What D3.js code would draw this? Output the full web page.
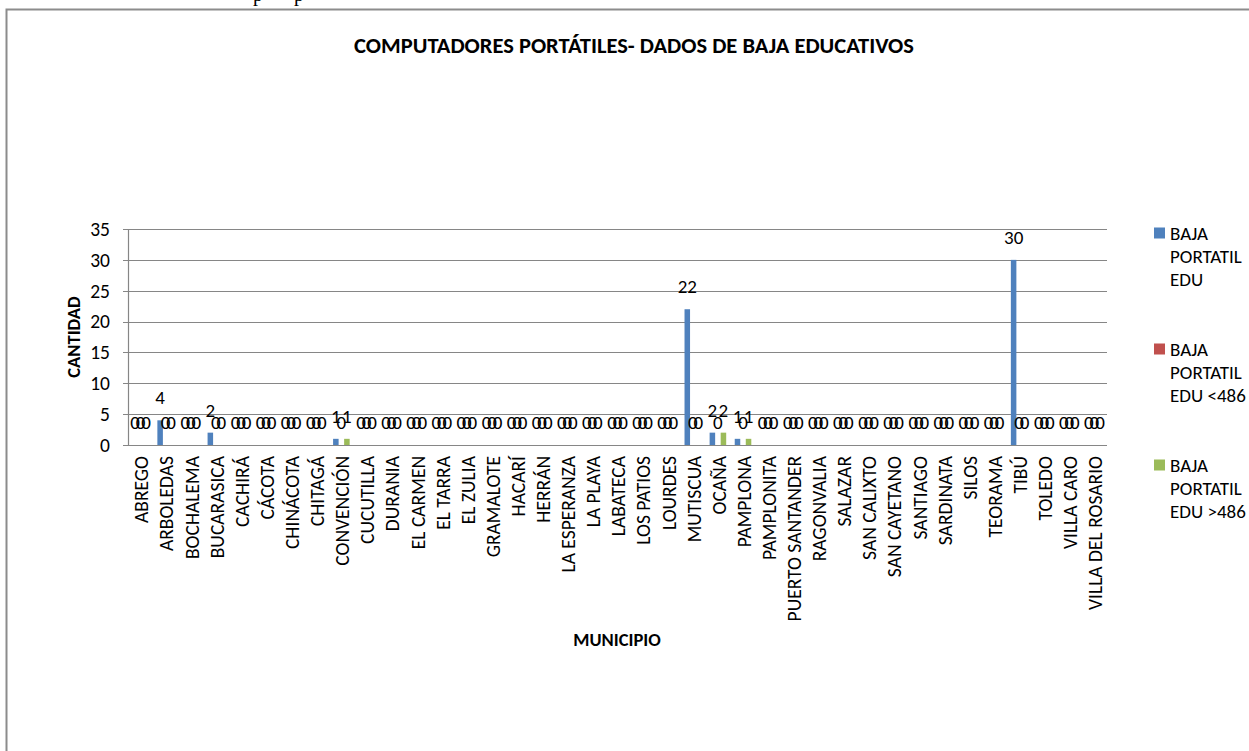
<!DOCTYPE html>
<html>
<head>
<meta charset="utf-8">
<script src="https://cdn.jsdelivr.net/npm/d3@7"></script>
<style>
  html, body { margin: 0; padding: 0; background: #fff; }
  svg { display: block; }
  text { font-family: Carlito, Lato, "Open Sans", sans-serif; }
</style>
</head>
<body>
<svg id="chart" width="1249" height="751"></svg>
<script>
const categories = ["ABREGO","ARBOLEDAS","BOCHALEMA","BUCARASICA","CACHIRÁ","CÁCOTA","CHINÁCOTA","CHITAGÁ","CONVENCIÓN","CUCUTILLA","DURANIA","EL CARMEN","EL TARRA","EL ZULIA","GRAMALOTE","HACARÍ","HERRÁN","LA ESPERANZA","LA PLAYA","LABATECA","LOS PATIOS","LOURDES","MUTISCUA","OCAÑA","PAMPLONA","PAMPLONITA","PUERTO SANTANDER","RAGONVALIA","SALAZAR","SAN CALIXTO","SAN CAYETANO","SANTIAGO","SARDINATA","SILOS","TEORAMA","TIBÚ","TOLEDO","VILLA CARO","VILLA DEL ROSARIO"];
const seriesNames = ["BAJA PORTATIL EDU","BAJA PORTATIL EDU <486","BAJA PORTATIL EDU >486"];
const bajaEdu =      [0,4,0,2,0,0,0,0,1,0,0,0,0,0,0,0,0,0,0,0,0,0,22,2,1,0,0,0,0,0,0,0,0,0,0,30,0,0,0];
const bajaEduMenor = [0,0,0,0,0,0,0,0,0,0,0,0,0,0,0,0,0,0,0,0,0,0,0,0,0,0,0,0,0,0,0,0,0,0,0,0,0,0,0];
const bajaEduMayor = [0,0,0,0,0,0,0,0,1,0,0,0,0,0,0,0,0,0,0,0,0,0,0,2,1,0,0,0,0,0,0,0,0,0,0,0,0,0,0];
const yTicks = [0,5,10,15,20,25,30,35];
const colors = ["#4F81BD","#C0504D","#9BBB59"];

(function () {
const seriesValues = [bajaEdu, bajaEduMenor, bajaEduMayor];
const svg = d3.select("#chart");

// outer frame
svg.append("rect").attr("x", 6.5).attr("y", 9.5).attr("width", 1260).attr("height", 760)
  .attr("fill", "none").attr("stroke", "#8c8c8c").attr("stroke-width", 2);

// cropped document text at top
svg.append("text").attr("x", 253).attr("y", 1)
  .style("font-family", "'Liberation Serif', serif").attr("font-size", 20).text("p");
svg.append("text").attr("x", 294).attr("y", 1)
  .style("font-family", "'Liberation Serif', serif").attr("font-size", 20).text("p");

const pLeft = 128, pRight = 1107, pTop = 229, pBottom = 445;
const x = d3.scaleBand().domain(categories).range([pLeft, pRight]).paddingInner(0.34).paddingOuter(0.17);
const x1 = d3.scaleBand().domain([0,1,2]).range([0, x.bandwidth()]);
const y = d3.scaleLinear().domain([0,35]).range([pBottom, pTop]);

// gridlines
svg.append("g").selectAll("line").data(yTicks).join("line")
  .attr("x1", pLeft - 5).attr("x2", pRight)
  .attr("y1", d => Math.round(y(d)) + 0.5).attr("y2", d => Math.round(y(d)) + 0.5)
  .attr("stroke", "#868686").attr("stroke-width", 1.2);
// y axis line
svg.append("line").attr("x1", pLeft + 0.5).attr("x2", pLeft + 0.5).attr("y1", pTop).attr("y2", pBottom)
  .attr("stroke", "#868686").attr("stroke-width", 1.2);

// y tick labels
svg.append("g").selectAll("text").data(yTicks).join("text")
  .attr("x", pLeft - 18).attr("y", d => y(d)).attr("dy", "0.35em")
  .attr("text-anchor", "end").attr("font-size", 19.5).attr("fill", "#000").text(d => d);

// bars
const groups = svg.append("g").selectAll("g").data(categories).join("g")
  .attr("transform", d => `translate(${x(d)},0)`);
groups.selectAll("rect").data((c, i) => seriesValues.map((s, k) => ({k, v: s[i]}))).join("rect")
  .attr("x", d => x1(d.k)).attr("width", x1.bandwidth())
  .attr("y", d => y(d.v)).attr("height", d => y(0) - y(d.v))
  .attr("fill", d => colors[d.k]);
// data labels
groups.selectAll("text").data((c, i) => seriesValues.map((s, k) => ({k, v: s[i]}))).join("text")
  .attr("x", d => x1(d.k) + x1.bandwidth() / 2).attr("y", d => y(d.v) - 16)
  .attr("text-anchor", "middle").attr("font-size", 19).attr("fill", "#000").text(d => d.v);

// x labels
svg.append("g").selectAll("text").data(categories).join("text")
  .attr("transform", d => `translate(${x(d) + x.bandwidth()/2 + 1},${pBottom + 11}) rotate(-90)`)
  .attr("text-anchor", "end").attr("dy", "0.35em").attr("font-size", 19.5).attr("fill", "#000").text(d => d);

// titles
svg.append("text").attr("x", 634).attr("y", 53).attr("text-anchor", "middle")
  .attr("font-size", 22.5).attr("font-weight", "bold").text("COMPUTADORES PORTÁTILES- DADOS DE BAJA EDUCATIVOS");
svg.append("text").attr("x", 617).attr("y", 646).attr("text-anchor", "middle")
  .attr("font-size", 18.5).attr("font-weight", "bold").text("MUNICIPIO");
svg.append("text").attr("transform", "translate(80,337) rotate(-90)").attr("text-anchor", "middle")
  .attr("font-size", 18.5).attr("font-weight", "bold").text("CANTIDAD");

// legend
const legendLines = [["BAJA","PORTATIL","EDU"],["BAJA","PORTATIL","EDU <486"],["BAJA","PORTATIL","EDU >486"]];
const lg = svg.append("g").selectAll("g").data(seriesNames).join("g")
  .attr("transform", (d, i) => `translate(1154,${233 + i * 116})`);
lg.append("rect").attr("x", 0).attr("y", -5.5).attr("width", 11).attr("height", 11).attr("fill", (d, i) => colors[i]);
lg.each(function(d, i) {
  d3.select(this).selectAll("text").data(legendLines[i]).join("text")
    .attr("x", 16).attr("y", (t, j) => j * 23).attr("dy", "0.35em")
    .attr("font-size", 19).attr("fill", "#000").text(t => t);
});
})();
</script>
</body>
</html>
